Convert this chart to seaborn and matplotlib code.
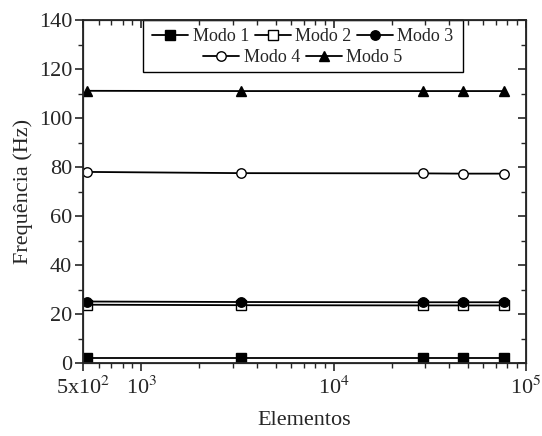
import matplotlib
matplotlib.use("Agg")
import matplotlib.pyplot as plt
from matplotlib.patches import Rectangle
import seaborn as sns
import numpy as np

# Data
elementos = [520, 3300, 29300, 47000, 76500]
modo1 = [2.0, 2.0, 2.0, 2.0, 2.0]
modo2 = [23.8, 23.6, 23.5, 23.5, 23.5]
modo3 = [25.1, 24.9, 24.8, 24.8, 24.8]
modo4 = [78.0, 77.5, 77.4, 77.3, 77.3]
modo5 = [111.1, 111.0, 111.0, 111.0, 111.0]
labels = ["Modo 1", "Modo 2", "Modo 3", "Modo 4", "Modo 5"]
series = [modo1, modo2, modo3, modo4, modo5]
markers = ["s", "s", "o", "o", "^"]
faces = ["black", "white", "black", "white", "black"]
xticks = [500, 1000, 10000, 100000]
xticklabels = [r"5x10$^2$", r"10$^3$", r"10$^4$", r"10$^5$"]

sns.set_style("ticks")
plt.rcParams["font.family"] = ["Liberation Serif", "DejaVu Serif"]
plt.rcParams["mathtext.fontset"] = "stix"

fig = plt.figure(figsize=(5.42, 4.36), dpi=100)
ax = fig.add_axes([0.1537, 0.1674, 0.9705 - 0.1537, 0.9541 - 0.1674])

for lab, ys, m, fc in zip(labels, series, markers, faces):
    sns.lineplot(x=elementos, y=ys, ax=ax, color="black", lw=1.3,
                 marker=m, markersize=7.5 if m == "^" else 6.8,
                 markerfacecolor=fc, markeredgecolor="black",
                 markeredgewidth=1.0, label=lab, legend=False)

ax.set_xscale("log")
ax.set_xlim(500, 100000)
ax.set_ylim(0, 140)
ax.set_xticks(xticks)
ax.set_xticklabels(xticklabels)
ax.set_yticks(np.arange(0, 141, 20))
ax.set_yticks(np.arange(10, 140, 20), minor=True)
ax.tick_params(which="major", direction="out", length=6, width=1.2, labelsize=16)
ax.tick_params(which="minor", direction="out", length=3.5, width=1.0)
ax.tick_params(axis="x", which="major", pad=4)
ax.tick_params(axis="y", which="major", pad=2)
for s in ax.spines.values():
    s.set_linewidth(1.3)
    s.set_visible(True)

# mirrored inward ticks on top and right
axr = ax.twinx()
axr.set_ylim(0, 140)
axr.set_yticks(np.arange(0, 141, 20))
axr.set_yticks(np.arange(10, 140, 20), minor=True)
axr.tick_params(which="major", direction="in", length=6, width=1.2, labelright=False)
axr.tick_params(which="minor", direction="in", length=3.5, width=1.0)
axt = ax.twiny()
axt.set_xscale("log")
axt.set_xlim(500, 100000)
axt.set_xticks(xticks)
axt.tick_params(which="major", direction="in", length=6, width=1.2, labeltop=False)
axt.tick_params(which="minor", direction="in", length=3.5, width=1.0)

ax.set_xlabel("Elementos", fontsize=16, labelpad=8)
ax.set_ylabel("Frequência (Hz)", fontsize=16, labelpad=4)

h, l = ax.get_legend_handles_labels()
legkw = dict(frameon=False, fontsize=13, handlelength=2.0, handletextpad=0.25,
             columnspacing=0.3, borderaxespad=0, borderpad=0)
leg1 = axt.legend(h[:3], l[:3], ncol=3, loc="center",
                  bbox_to_anchor=(0.496, 0.951), bbox_transform=ax.transAxes, **legkw)
axt.add_artist(leg1)
leg2 = axt.legend(h[3:], l[3:], ncol=2, loc="center",
                  bbox_to_anchor=(0.496, 0.890), bbox_transform=ax.transAxes, **legkw)
rect = Rectangle((0.135, 0.848), 0.858 - 0.135, 0.152, transform=ax.transAxes,
                 fill=False, edgecolor="black", lw=1.0, zorder=5, clip_on=False)
ax.add_patch(rect)

fig.savefig("out.png", dpi=100)
